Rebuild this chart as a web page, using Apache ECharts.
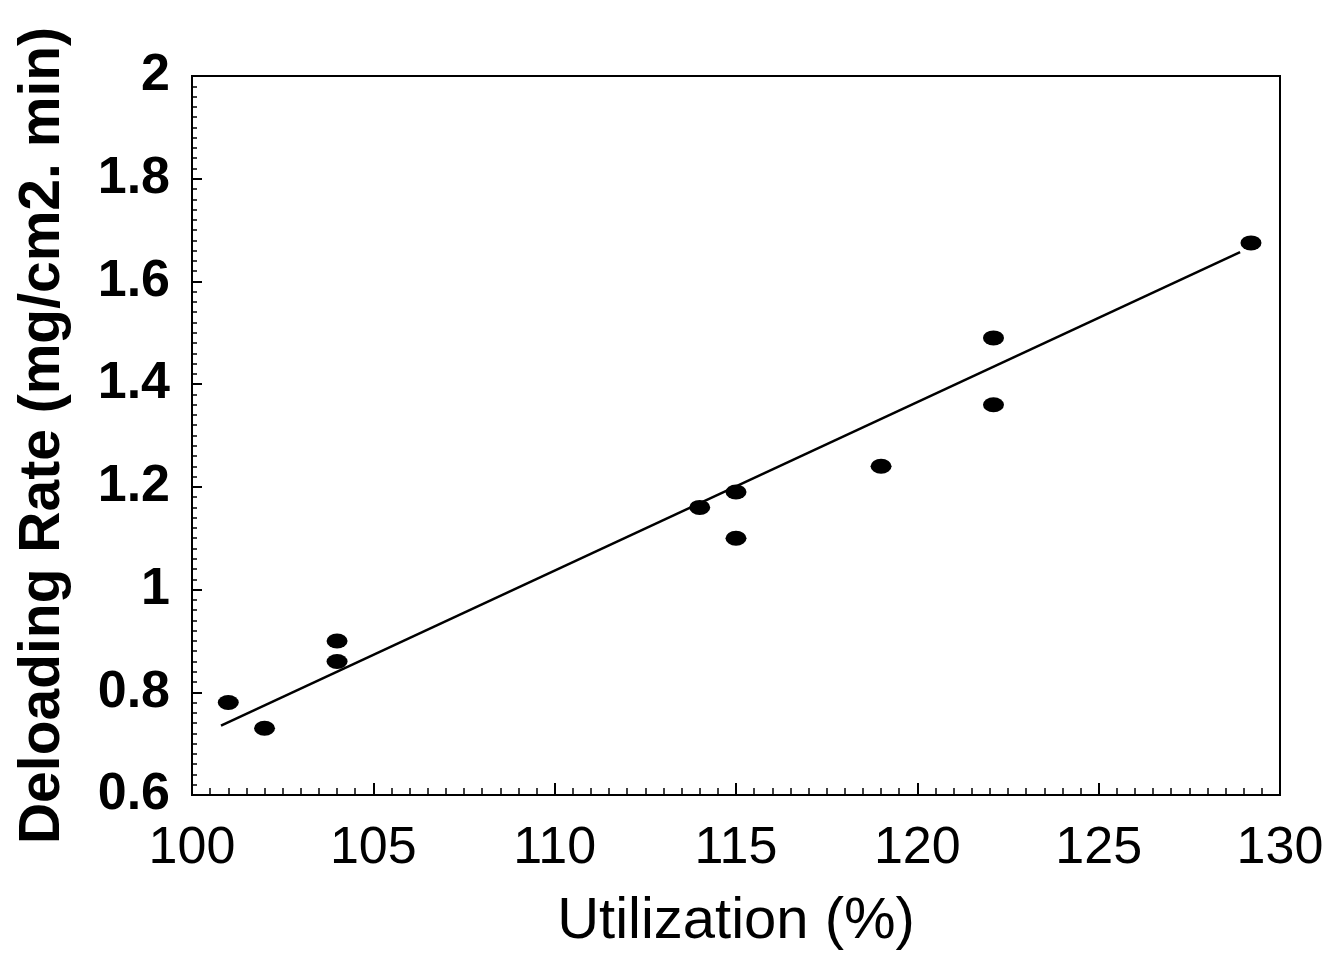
<!DOCTYPE html>
<html>
<head>
<meta charset="utf-8">
<script src="https://cdn.jsdelivr.net/npm/echarts@6/dist/echarts.min.js"></script>
<style>html,body{margin:0;padding:0;background:#fff}#c{width:1333px;height:967px}</style>
</head>
<body>
<div id="c"></div>
<script>
const utilization = [101.0, 102.0, 104.0, 104.0, 114.0, 115.0, 115.0, 119.0, 122.1, 122.1, 129.2];
const deloadingRate = [0.78, 0.73, 0.90, 0.86, 1.16, 1.19, 1.10, 1.24, 1.49, 1.36, 1.675];
const fitX = [100.8, 128.9];
const fitY = [0.735, 1.657];
const xTicks = [100, 105, 110, 115, 120, 125, 130];
const yTicks = [0.6, 0.8, 1.0, 1.2, 1.4, 1.6, 1.8, 2.0];

const chart = echarts.init(document.getElementById('c'));
chart.setOption({
  animation: false,
  backgroundColor: '#fff',
  grid: { left: 192, right: 53, top: 76, bottom: 172, show: true, borderColor: '#000', borderWidth: 2, backgroundColor: 'transparent' },
  xAxis: {
    type: 'value', min: xTicks[0], max: xTicks[xTicks.length - 1], interval: 5,
    name: 'Utilization (%)', nameLocation: 'middle', nameGap: 98,
    nameTextStyle: { fontFamily: 'Liberation Sans, Arial', fontSize: 58, color: '#000' },
    axisLine: { lineStyle: { color: '#000', width: 2 } },
    axisTick: { inside: true, length: 12, lineStyle: { color: '#000', width: 2 } },
    minorTick: { show: true, splitNumber: 10, length: 7, lineStyle: { color: '#000', width: 1.5 } },
    splitLine: { show: false },
    axisLabel: { margin: 28, fontFamily: 'Liberation Sans, Arial', fontSize: 52, color: '#000' }
  },
  yAxis: {
    type: 'value', min: yTicks[0], max: yTicks[yTicks.length - 1], interval: 0.2,
    name: 'Deloading Rate (mg/cm2. min)', nameLocation: 'middle', nameGap: 120,
    nameTextStyle: { fontFamily: 'Liberation Sans, Arial', fontSize: 57, fontWeight: 'bold', color: '#000' },
    axisLine: { lineStyle: { color: '#000', width: 2 } },
    axisTick: { inside: true, length: 10, lineStyle: { color: '#000', width: 2 } },
    minorTick: { show: true, splitNumber: 10, length: 5, lineStyle: { color: '#000', width: 1.5 } },
    splitLine: { show: false },
    axisLabel: {
      margin: 22, fontFamily: 'Liberation Sans, Arial', fontSize: 52, fontWeight: 'bold', color: '#000',
      formatter: v => String(parseFloat(v.toFixed(1)))
    }
  },
  series: [
    {
      type: 'line', data: fitX.map((x, i) => [x, fitY[i]]), symbol: 'none',
      lineStyle: { color: '#000', width: 2.5 }, z: 2
    },
    {
      type: 'scatter', data: utilization.map((x, i) => [x, deloadingRate[i]]),
      symbol: 'circle', symbolSize: [21, 15], itemStyle: { color: '#000', opacity: 1 }, z: 3
    }
  ]
});
</script>
</body>
</html>
